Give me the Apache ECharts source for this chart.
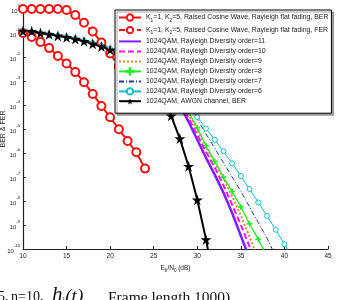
<!DOCTYPE html>
<html>
<head>
<meta charset="utf-8">
<script src="https://cdn.jsdelivr.net/npm/echarts@6.0.0/dist/echarts.min.js"></script>
<style>
html, body { margin: 0; padding: 0; background: #fff; }
#chart { width: 338px; height: 300px; }
</style>
</head>
<body>
<div id="chart"></div>
<script>
// values are log10 exponents, one per dB starting at the given start
var berStart = 10;
var berExp = [-1.0, -1.17, -1.37, -1.63, -1.96, -2.27, -2.63, -3.05, -3.54, -4.04, -4.51, -5.01, -5.5, -5.97, -6.65];
var ferStart = 10;
var ferExp = [0, 0, 0, 0, 0, -0.04, -0.25, -0.57, -0.94, -1.4, -1.85, -2.4, -3.0, -3.7];

// rayleigh diversity curves share the low-snr part (10..26 dB)
var rayStart = 10;
var rayLow = [-0.93, -0.95, -1.0, -1.05, -1.11, -1.17, -1.24, -1.32, -1.42, -1.53, -1.66, -1.82, -2.0, -2.2, -2.45, -2.75, -3.1];
// tails from 27 dB on
var ord11 = [-3.5, -4.0, -4.7, -5.45, -6.2, -6.9, -7.65, -8.5, -9.45, -10.4];
var ord10 = [-3.45, -3.95, -4.55, -5.25, -5.95, -6.6, -7.35, -8.15, -9.0, -9.9, -10.9];
var ord9 = [-3.4, -3.85, -4.4, -5.05, -5.75, -6.4, -7.05, -7.8, -8.6, -9.5, -10.4];
var ord8 = [-3.35, -3.75, -4.28, -4.95, -5.7, -6.35, -7.0, -7.6, -8.25, -8.95, -9.6, -10.3];
var ord7 = [-3.25, -3.6, -4.05, -4.6, -5.2, -5.8, -6.4, -7.0, -7.6, -8.25, -8.9, -9.55, -10.3];
var ord6 = [-3.2, -3.6, -4.05, -4.5, -4.98, -5.45, -5.93, -6.43, -6.96, -7.5, -8.06, -8.62, -9.2, -9.8, -10.4];

var awgnStart = 10;
var awgnExp = [-0.92, -0.93, -1.0, -1.05, -1.12, -1.18, -1.25, -1.34, -1.45, -1.56, -1.7, -1.9, -2.15, -2.45, -2.8, -3.25, -3.8, -4.45, -5.4, -6.55, -7.95, -9.6, -11.5];

var xTicks = [10, 45, 5];   // min, max, step
var yTicks = [1e-10, 1];

var nameBer = 'K1=1, K2=5, Raised Cosine Wave, Rayleigh flat fading, BER';
var nameFer = 'K1=1, K2=5, Raised Cosine Wave, Rayleigh flat fading, FER';

function pts(x0, exps) {
	return exps.map(function (e, i) { return [x0 + i, Math.pow(10, e)]; });
}

var star = 'path://M50,0 L61,35 L98,35 L68,57 L79,91 L50,70 L21,91 L32,57 L2,35 L39,35 Z';
var plus = 'path://M4.4,0H5.6V4.4H10V5.6H5.6V10H4.4V5.6H0V4.4H4.4Z';
var font = 'Liberation Sans, Arial, sans-serif';
var serif = 'Liberation Serif, Times New Roman, serif';

function raySeries(name, tail, color, width, type, symbol, size) {
	var s = {
		name: name,
		type: 'line',
		data: pts(rayStart, rayLow.concat(tail)),
		symbol: symbol || 'none',
		symbolSize: size || 0,
		lineStyle: { color: color, width: width, type: type },
		itemStyle: { color: symbol === 'circle' ? '#fff' : color, borderColor: color, borderWidth: 1 },
		clip: true
	};
	if (!symbol) s.itemStyle.opacity = 0;   // keeps the legend icon a bare line
	return s;
}

var chart = echarts.init(document.getElementById('chart'));
var option = {
	animation: false,
	backgroundColor: '#fff',
	grid: { left: 23, right: 10, top: 9, bottom: 51, outerBoundsMode: 'none', containLabel: false },
	legend: {
		left: 115, top: 10,
		orient: 'vertical',
		backgroundColor: '#fff',
		borderColor: '#000', borderWidth: 1,
		shadowColor: 'rgba(0,0,0,0.35)', shadowOffsetX: 2, shadowOffsetY: 2,
		padding: [2, 3, 8, 3],
		itemWidth: 22, itemHeight: 8, itemGap: 1.6,
		textStyle: {
			fontFamily: font, fontSize: 6.9, color: '#222', lineHeight: 8,
			rich: {
				sub: { fontSize: 4.8, verticalAlign: 'bottom', lineHeight: 11, fontFamily: font, color: '#222' }
			}
		},
		formatter: function (name) {
			return name.replace('K1', 'K{sub|1}').replace('K2', 'K{sub|2}');
		}
	},
	xAxis: {
		type: 'value', min: xTicks[0], max: xTicks[1], interval: xTicks[2],
		name: 'E{sub|b}/N{sub|0} (dB)',
		nameLocation: 'middle', nameGap: 14, nameMoveOverlap: false,
		nameTextStyle: {
			fontFamily: font, fontSize: 6.5, color: '#222',
			rich: { sub: { fontSize: 4.5, verticalAlign: 'bottom', lineHeight: 10, fontFamily: font, color: '#222' } }
		},
		axisLine: { onZero: false, lineStyle: { color: '#222', width: 1.2 } },
		axisTick: { inside: true, length: 3, lineStyle: { color: '#222' } },
		axisLabel: { fontFamily: font, fontSize: 6.5, color: '#222', margin: 4 },
		splitLine: { show: false }
	},
	yAxis: {
		type: 'log', logBase: 10, min: yTicks[0], max: yTicks[1], interval: 1,
		name: 'BER & FER',
		nameLocation: 'middle', nameGap: 16, nameRotate: 90, nameMoveOverlap: false,
		nameTextStyle: { fontFamily: font, fontSize: 7, color: '#222' },
		axisLine: { show: true, lineStyle: { color: '#222', width: 1.2 } },
		axisTick: { inside: true, length: 3, lineStyle: { color: '#222' } },
		axisLabel: {
			margin: 3,
			formatter: function (v) {
				return '{b|10}{sup|' + Math.round(Math.log10(v)) + '}';
			},
			rich: {
				b: { fontFamily: font, fontSize: 6, color: '#222', lineHeight: 10, verticalAlign: 'bottom' },
				sup: { fontFamily: font, fontSize: 4.2, color: '#222', lineHeight: 10, verticalAlign: 'top' }
			}
		},
		splitLine: { show: false }
	},
	graphic: [
		{ type: 'text', left: -2, top: 290, style: { text: '5,', font: '14px ' + serif, fill: '#111' } },
		{ type: 'text', left: 11, top: 290, style: { text: 'n=10,', font: '14px ' + serif, fill: '#111' } },
		{
			type: 'text', left: 52, top: 285,
			style: {
				text: '{h|h}{s|i}{t|(t),}',
				rich: {
					h: { font: 'italic 21px ' + serif, fill: '#111', verticalAlign: 'bottom', lineHeight: 22 },
					s: { font: '10px ' + serif, fill: '#111', verticalAlign: 'bottom', lineHeight: 18 },
					t: { font: 'italic 19px ' + serif, fill: '#111', verticalAlign: 'bottom', lineHeight: 21 }
				}
			}
		},
		{ type: 'text', left: 108, top: 290, style: { text: 'Frame length 1000)', font: '15.5px ' + serif, fill: '#111' } }
	],
	series: [
		{
			name: nameBer, type: 'line', data: pts(berStart, berExp),
			symbol: 'circle', symbolSize: 8,
			lineStyle: { color: '#ff1010', width: 2 },
			itemStyle: { color: '#fff', borderColor: '#ff1010', borderWidth: 2 }
		},
		{
			name: nameFer, type: 'line', data: pts(ferStart, ferExp),
			symbol: 'circle', symbolSize: 8,
			lineStyle: { color: '#ff1010', width: 2, type: [6, 3] },
			itemStyle: { color: '#fff', borderColor: '#ff1010', borderWidth: 2 }
		},
		raySeries('1024QAM, Rayleigh Diversity order=11', ord11, '#7f1fff', 2.5, 'solid'),
		raySeries('1024QAM, Rayleigh Diversity order=10', ord10, '#ff10ff', 2, [6, 3]),
		raySeries('1024QAM, Rayleigh Diversity order=9', ord9, '#e0882a', 2, [2, 2]),
		raySeries('1024QAM, Rayleigh Diversity order=8', ord8, '#22ee22', 1.3, 'solid', plus, 5),
		raySeries('1024QAM, Rayleigh Diversity order=7', ord7, '#24408f', 1, [5, 2, 1, 2]),
		raySeries('1024QAM, Rayleigh Diversity order=6', ord6, '#10c0c8', 1, 'solid', 'circle', 5),
		{
			name: '1024QAM, AWGN channel, BER', type: 'line', data: pts(awgnStart, awgnExp),
			symbol: star, symbolSize: 11,
			lineStyle: { color: '#000', width: 2 },
			itemStyle: { color: '#000' },
			clip: true
		}
	]
};
chart.setOption(option);
</script>
</body>
</html>
